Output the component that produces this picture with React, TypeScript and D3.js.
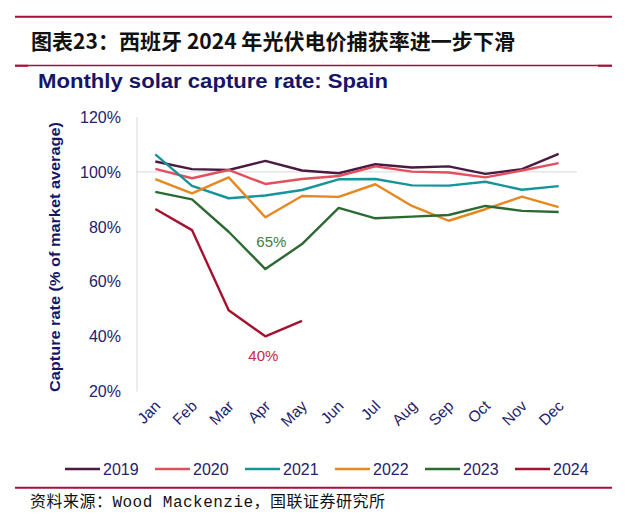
import React from "react";
import * as d3 from "d3";

const months = ["Jan", "Feb", "Mar", "Apr", "May", "Jun", "Jul", "Aug", "Sep", "Oct", "Nov", "Dec"];
const yTicks = [20, 40, 60, 80, 100, 120];

const s2019 = [103.8, 101.0, 100.7, 104.0, 100.5, 99.5, 102.8, 101.6, 102.0, 99.3, 101.0, 106.6];
const s2020 = [101.1, 97.7, 100.7, 95.6, 97.4, 98.5, 102.0, 100.1, 99.8, 98.0, 100.5, 103.2];
const s2021 = [106.4, 94.9, 90.4, 91.4, 93.4, 97.3, 97.4, 95.1, 95.0, 96.4, 93.5, 94.8];
const s2022 = [97.4, 92.2, 98.0, 83.5, 91.2, 90.9, 95.5, 87.6, 82.2, 86.4, 91.0, 87.2];
const s2023 = [92.7, 90.0, 78.2, 64.6, 73.7, 86.9, 83.1, 83.7, 84.3, 87.6, 85.8, 85.4];
const s2024 = [86.5, 78.8, 49.6, 40.1, 45.7];

const seriesNames = ["2019", "2020", "2021", "2022", "2023", "2024"];
const seriesColors = ["#4a1a42", "#e2505e", "#16949a", "#e6881f", "#2c6a34", "#a3122f"];
const seriesData = [s2019, s2020, s2021, s2022, s2023, s2024];

const annotations = [
  { text: "65%", month: "Apr", value: 64.6, color: "#3d7c48", dx: 6, dy: -27 },
  { text: "40%", month: "Apr", value: 40.1, color: "#c42a45", dx: -2, dy: 19 },
];

const title = "图表23：西班牙 2024 年光伏电价捕获率进一步下滑";
const subtitle = "Monthly solar capture rate: Spain";
const yAxisTitle = "Capture rate (% of market average)";
const source = "资料来源：Wood Mackenzie，国联证券研究所";

const NAVY = "#25226a";
const SUBNAVY = "#161668";
const RULE = "#a50f3c";

export default function App() {
  const left = 137, right = 577, top = 117, bottom = 391.5;
  const x = d3.scaleBand<string>().domain(months).range([left, right]);
  const xc = (m: string) => (x(m) as number) + x.bandwidth() / 2;
  const y = d3.scaleLinear().domain([20, 120]).range([bottom, top]);

  const line = d3
    .line<number>()
    .x((_, i) => xc(months[i]))
    .y((d) => y(d));

  return (
    <svg
      width={625}
      height={523}
      style={{ position: "absolute", left: 0, top: 0, background: "#fff" }}
      fontFamily="'Liberation Sans', Arial, sans-serif"
    >
      <rect x={0} y={0} width={625} height={523} fill="#fff" />
      {/* header rules */}
      <line x1={15} x2={612} y1={16.7} y2={16.7} stroke={RULE} strokeWidth={2} />
      <line x1={15} x2={612} y1={65.5} y2={65.5} stroke={RULE} strokeWidth={1.3} />
      <line x1={15} x2={28} y1={65.8} y2={65.8} stroke={RULE} strokeWidth={2} />
      <line x1={598} x2={612} y1={65.8} y2={65.8} stroke={RULE} strokeWidth={2} />
      <text
        x={31}
        y={49}
        fontFamily="'Noto Sans CJK SC', sans-serif"
        fontWeight="bold"
        fontSize={21}
        textLength={484}
        lengthAdjust="spacingAndGlyphs"
        fill="#111"
      >
        {title}
      </text>
      <text
        x={38}
        y={88}
        fontWeight="bold"
        fontSize={20}
        textLength={350}
        lengthAdjust="spacingAndGlyphs"
        fill={SUBNAVY}
      >
        {subtitle}
      </text>

      {/* axis and reference line */}
      <line x1={left} x2={left} y1={top} y2={bottom} stroke="#d9d9d9" strokeWidth={1} />
      <line x1={left} x2={right} y1={y(100)} y2={y(100)} stroke="#d9d9d9" strokeWidth={1} />

      {yTicks.map((t) => (
        <text key={t} x={121} y={y(t)} dy="0.36em" textAnchor="end" fontSize={16} fill={NAVY}>
          {t}%
        </text>
      ))}
      <text
        transform={`translate(60,257) rotate(-90)`}
        textAnchor="middle"
        fontWeight="bold"
        fontSize={15.5}
        textLength={270}
        lengthAdjust="spacingAndGlyphs"
        fill={SUBNAVY}
      >
        {yAxisTitle}
      </text>

      {months.map((m) => (
        <text
          key={m}
          transform={`translate(${xc(m) + 6},${407}) rotate(-45)`}
          textAnchor="end"
          fontSize={15.5}
          fill={NAVY}
        >
          {m}
        </text>
      ))}

      {seriesData.map((d, i) => (
        <path
          key={seriesNames[i]}
          d={line(d) as string}
          fill="none"
          stroke={seriesColors[i]}
          strokeWidth={2.4}
          strokeLinejoin="round"
        />
      ))}

      {annotations.map((a) => (
        <text
          key={a.text}
          x={xc(a.month) + a.dx}
          y={y(a.value) + a.dy}
          dy="0.36em"
          textAnchor="middle"
          fontSize={15}
          fill={a.color}
        >
          {a.text}
        </text>
      ))}

      {/* legend */}
      {seriesNames.map((n, i) => {
        const lx = 65 + i * 90;
        return (
          <g key={n}>
            <line x1={lx} x2={lx + 35} y1={469} y2={469} stroke={seriesColors[i]} strokeWidth={2.4} />
            <text x={lx + 38} y={469} dy="0.36em" fontSize={16} fill={NAVY}>
              {n}
            </text>
          </g>
        );
      })}

      <line x1={15} x2={612} y1={487.7} y2={487.7} stroke={RULE} strokeWidth={2} />
      <text
        x={30}
        y={501}
        dy="0.36em"
        fontSize={16}
        textLength={355}
        lengthAdjust="spacing"
        fontFamily="'Liberation Mono', 'Noto Sans CJK SC', monospace"
        fill="#111"
      >
        {source}
      </text>
    </svg>
  );
}
